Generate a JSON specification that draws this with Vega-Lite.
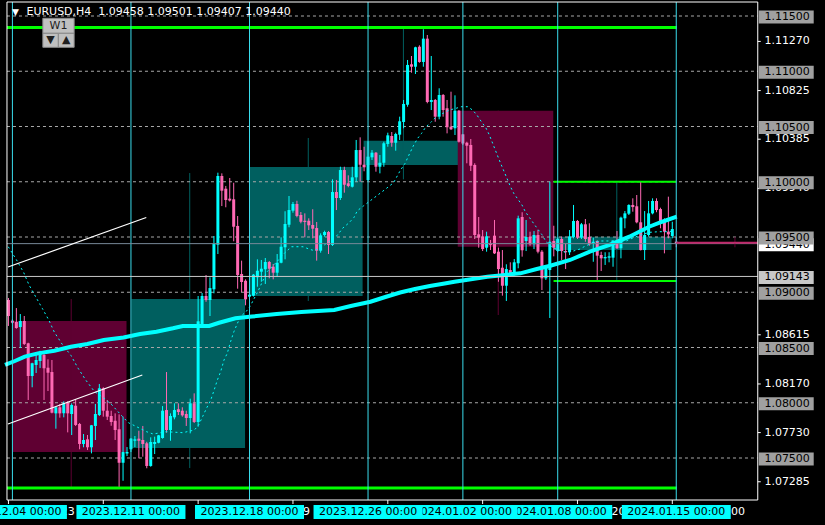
{
"$schema":"https://vega.github.io/schema/vega-lite/v6.json",
"width":825,"height":525,"autosize":{"type":"none"},"padding":0,"background":"#000000",
"config":{"view":{"stroke":null},"text":{"font":"DejaVu Sans","fontSize":11}},
"datasets":{
"candles":[
{"i":1,"o":1.08930,"h":1.08948,"l":1.08695,"c":1.08785,"dir":"down"},
{"i":2,"o":1.08743,"h":1.08758,"l":1.08713,"c":1.08724,"dir":"down"},
{"i":3,"o":1.08731,"h":1.08857,"l":1.08670,"c":1.08676,"dir":"down"},
{"i":4,"o":1.08685,"h":1.08803,"l":1.08495,"c":1.08740,"dir":"up"},
{"i":5,"o":1.08740,"h":1.08785,"l":1.08523,"c":1.08532,"dir":"down"},
{"i":6,"o":1.08538,"h":1.08543,"l":1.08025,"c":1.08242,"dir":"down"},
{"i":7,"o":1.08242,"h":1.08362,"l":1.08140,"c":1.08357,"dir":"up"},
{"i":8,"o":1.08342,"h":1.08459,"l":1.08269,"c":1.08387,"dir":"up"},
{"i":9,"o":1.08378,"h":1.08471,"l":1.08314,"c":1.08462,"dir":"up"},
{"i":10,"o":1.08432,"h":1.08441,"l":1.08025,"c":1.08312,"dir":"down"},
{"i":11,"o":1.08317,"h":1.08393,"l":1.08106,"c":1.08272,"dir":"down"},
{"i":12,"o":1.08278,"h":1.08387,"l":1.07904,"c":1.07910,"dir":"down"},
{"i":13,"o":1.07904,"h":1.07964,"l":1.07765,"c":1.07959,"dir":"up"},
{"i":14,"o":1.07959,"h":1.07989,"l":1.07865,"c":1.07904,"dir":"down"},
{"i":15,"o":1.07904,"h":1.08013,"l":1.07868,"c":1.07995,"dir":"up"},
{"i":16,"o":1.08000,"h":1.08013,"l":1.07732,"c":1.07904,"dir":"down"},
{"i":17,"o":1.07898,"h":1.07995,"l":1.07708,"c":1.07980,"dir":"up"},
{"i":18,"o":1.07973,"h":1.08031,"l":1.07790,"c":1.07799,"dir":"down"},
{"i":19,"o":1.07808,"h":1.07817,"l":1.07579,"c":1.07627,"dir":"down"},
{"i":20,"o":1.07627,"h":1.07717,"l":1.07597,"c":1.07663,"dir":"up"},
{"i":21,"o":1.07669,"h":1.07708,"l":1.07572,"c":1.07597,"dir":"down"},
{"i":22,"o":1.07597,"h":1.07799,"l":1.07542,"c":1.07796,"dir":"up"},
{"i":23,"o":1.07790,"h":1.07989,"l":1.07663,"c":1.07898,"dir":"up"},
{"i":24,"o":1.07889,"h":1.08170,"l":1.07880,"c":1.08131,"dir":"up"},
{"i":25,"o":1.08131,"h":1.08140,"l":1.07874,"c":1.07928,"dir":"down"},
{"i":26,"o":1.07928,"h":1.08025,"l":1.07844,"c":1.07874,"dir":"down"},
{"i":27,"o":1.07880,"h":1.07928,"l":1.07792,"c":1.07826,"dir":"down"},
{"i":28,"o":1.07837,"h":1.07904,"l":1.07663,"c":1.07753,"dir":"down"},
{"i":29,"o":1.07760,"h":1.07895,"l":1.07240,"c":1.07457,"dir":"down"},
{"i":30,"o":1.07457,"h":1.07874,"l":1.07294,"c":1.07554,"dir":"up"},
{"i":31,"o":1.07541,"h":1.07599,"l":1.07518,"c":1.07554,"dir":"up"},
{"i":32,"o":1.07579,"h":1.07681,"l":1.07554,"c":1.07675,"dir":"up"},
{"i":33,"o":1.07656,"h":1.07699,"l":1.07599,"c":1.07669,"dir":"up"},
{"i":34,"o":1.07675,"h":1.07747,"l":1.07497,"c":1.07656,"dir":"down"},
{"i":35,"o":1.07663,"h":1.07790,"l":1.07512,"c":1.07627,"dir":"down"},
{"i":36,"o":1.07633,"h":1.07647,"l":1.07407,"c":1.07428,"dir":"down"},
{"i":37,"o":1.07428,"h":1.07687,"l":1.07421,"c":1.07645,"dir":"up"},
{"i":38,"o":1.07627,"h":1.07693,"l":1.07536,"c":1.07645,"dir":"up"},
{"i":39,"o":1.07638,"h":1.07708,"l":1.07633,"c":1.07705,"dir":"up"},
{"i":40,"o":1.07681,"h":1.07970,"l":1.07675,"c":1.07928,"dir":"up"},
{"i":41,"o":1.07934,"h":1.08278,"l":1.07729,"c":1.07753,"dir":"down"},
{"i":42,"o":1.07753,"h":1.07904,"l":1.07656,"c":1.07880,"dir":"up"},
{"i":43,"o":1.07868,"h":1.07995,"l":1.07850,"c":1.07934,"dir":"up"},
{"i":44,"o":1.07941,"h":1.07995,"l":1.07889,"c":1.07916,"dir":"down"},
{"i":45,"o":1.07928,"h":1.07959,"l":1.07874,"c":1.07886,"dir":"down"},
{"i":46,"o":1.07898,"h":1.07928,"l":1.07790,"c":1.07862,"dir":"down"},
{"i":47,"o":1.07862,"h":1.08037,"l":1.07723,"c":1.07995,"dir":"up"},
{"i":48,"o":1.07995,"h":1.08085,"l":1.07817,"c":1.07826,"dir":"down"},
{"i":49,"o":1.07826,"h":1.08966,"l":1.07783,"c":1.08737,"dir":"up"},
{"i":50,"o":1.08713,"h":1.08993,"l":1.08706,"c":1.08966,"dir":"up"},
{"i":51,"o":1.08966,"h":1.09156,"l":1.08914,"c":1.08930,"dir":"down"},
{"i":52,"o":1.08930,"h":1.09135,"l":1.08785,"c":1.09038,"dir":"up"},
{"i":53,"o":1.09027,"h":1.09509,"l":1.08990,"c":1.09437,"dir":"up"},
{"i":54,"o":1.09430,"h":1.10082,"l":1.09346,"c":1.10052,"dir":"up"},
{"i":55,"o":1.10052,"h":1.10076,"l":1.09780,"c":1.09919,"dir":"down"},
{"i":56,"o":1.09937,"h":1.09962,"l":1.09769,"c":1.09835,"dir":"down"},
{"i":57,"o":1.09847,"h":1.10034,"l":1.09821,"c":1.09830,"dir":"down"},
{"i":58,"o":1.09841,"h":1.09991,"l":1.09461,"c":1.09593,"dir":"down"},
{"i":59,"o":1.09600,"h":1.09690,"l":1.09032,"c":1.09156,"dir":"down"},
{"i":60,"o":1.09165,"h":1.09286,"l":1.09002,"c":1.09093,"dir":"down"},
{"i":61,"o":1.09104,"h":1.09117,"l":1.08882,"c":1.08936,"dir":"down"},
{"i":62,"o":1.08960,"h":1.08993,"l":1.08943,"c":1.08978,"dir":"up"},
{"i":63,"o":1.08969,"h":1.09165,"l":1.08961,"c":1.09159,"dir":"up"},
{"i":64,"o":1.09135,"h":1.09298,"l":1.09050,"c":1.09195,"dir":"up"},
{"i":65,"o":1.09186,"h":1.09292,"l":1.09095,"c":1.09213,"dir":"up"},
{"i":66,"o":1.09208,"h":1.09310,"l":1.09075,"c":1.09274,"dir":"up"},
{"i":67,"o":1.09274,"h":1.09283,"l":1.09126,"c":1.09213,"dir":"down"},
{"i":68,"o":1.09231,"h":1.09256,"l":1.09117,"c":1.09177,"dir":"down"},
{"i":69,"o":1.09177,"h":1.09346,"l":1.09141,"c":1.09267,"dir":"up"},
{"i":70,"o":1.09267,"h":1.09497,"l":1.09262,"c":1.09412,"dir":"up"},
{"i":71,"o":1.09407,"h":1.09733,"l":1.09298,"c":1.09618,"dir":"up"},
{"i":72,"o":1.09611,"h":1.09871,"l":1.09588,"c":1.09744,"dir":"up"},
{"i":73,"o":1.09738,"h":1.09817,"l":1.09720,"c":1.09799,"dir":"up"},
{"i":74,"o":1.09799,"h":1.09828,"l":1.09678,"c":1.09690,"dir":"down"},
{"i":75,"o":1.09699,"h":1.09726,"l":1.09624,"c":1.09638,"dir":"down"},
{"i":76,"o":1.09647,"h":1.09714,"l":1.09497,"c":1.09636,"dir":"down"},
{"i":77,"o":1.09647,"h":1.09669,"l":1.09563,"c":1.09606,"dir":"down"},
{"i":78,"o":1.09609,"h":1.09751,"l":1.09488,"c":1.09575,"dir":"down"},
{"i":79,"o":1.09581,"h":1.09636,"l":1.09286,"c":1.09376,"dir":"down"},
{"i":80,"o":1.09376,"h":1.09533,"l":1.09358,"c":1.09515,"dir":"up"},
{"i":81,"o":1.09518,"h":1.09557,"l":1.09503,"c":1.09545,"dir":"up"},
{"i":82,"o":1.09545,"h":1.09554,"l":1.09346,"c":1.09428,"dir":"down"},
{"i":83,"o":1.09428,"h":1.10022,"l":1.09419,"c":1.09907,"dir":"up"},
{"i":84,"o":1.09907,"h":1.10016,"l":1.09744,"c":1.09853,"dir":"down"},
{"i":85,"o":1.09853,"h":1.10136,"l":1.09835,"c":1.10106,"dir":"up"},
{"i":86,"o":1.10106,"h":1.10136,"l":1.09901,"c":1.09973,"dir":"down"},
{"i":87,"o":1.09986,"h":1.10058,"l":1.09950,"c":1.09962,"dir":"down"},
{"i":88,"o":1.09955,"h":1.10136,"l":1.09948,"c":1.10040,"dir":"up"},
{"i":89,"o":1.10040,"h":1.10378,"l":1.10000,"c":1.10287,"dir":"up"},
{"i":90,"o":1.10287,"h":1.10402,"l":1.10000,"c":1.10154,"dir":"down"},
{"i":91,"o":1.10154,"h":1.10317,"l":1.10095,"c":1.10131,"dir":"down"},
{"i":92,"o":1.10016,"h":1.10366,"l":1.10007,"c":1.10227,"dir":"up"},
{"i":93,"o":1.10221,"h":1.10287,"l":1.10197,"c":1.10263,"dir":"up"},
{"i":94,"o":1.10263,"h":1.10269,"l":1.10091,"c":1.10136,"dir":"down"},
{"i":95,"o":1.10136,"h":1.10242,"l":1.10076,"c":1.10172,"dir":"up"},
{"i":96,"o":1.10172,"h":1.10362,"l":1.10136,"c":1.10348,"dir":"up"},
{"i":97,"o":1.10342,"h":1.10444,"l":1.10317,"c":1.10420,"dir":"up"},
{"i":98,"o":1.10414,"h":1.10450,"l":1.10317,"c":1.10353,"dir":"down"},
{"i":99,"o":1.10353,"h":1.10444,"l":1.10281,"c":1.10432,"dir":"up"},
{"i":100,"o":1.10426,"h":1.10589,"l":1.10378,"c":1.10547,"dir":"up"},
{"i":101,"o":1.10541,"h":1.10740,"l":1.10484,"c":1.10704,"dir":"up"},
{"i":102,"o":1.10697,"h":1.11102,"l":1.10679,"c":1.11057,"dir":"up"},
{"i":103,"o":1.11063,"h":1.11138,"l":1.10987,"c":1.11041,"dir":"down"},
{"i":104,"o":1.11041,"h":1.11222,"l":1.10975,"c":1.11217,"dir":"up"},
{"i":105,"o":1.11222,"h":1.11235,"l":1.11077,"c":1.11084,"dir":"down"},
{"i":106,"o":1.11084,"h":1.11380,"l":1.11041,"c":1.11295,"dir":"up"},
{"i":107,"o":1.11295,"h":1.11328,"l":1.10710,"c":1.10722,"dir":"down"},
{"i":108,"o":1.10722,"h":1.11138,"l":1.10649,"c":1.10740,"dir":"up"},
{"i":109,"o":1.10740,"h":1.10749,"l":1.10543,"c":1.10589,"dir":"down"},
{"i":110,"o":1.10589,"h":1.10846,"l":1.10565,"c":1.10785,"dir":"up"},
{"i":111,"o":1.10785,"h":1.10794,"l":1.10589,"c":1.10649,"dir":"down"},
{"i":112,"o":1.10665,"h":1.10740,"l":1.10438,"c":1.10493,"dir":"down"},
{"i":113,"o":1.10498,"h":1.10815,"l":1.10468,"c":1.10475,"dir":"down"},
{"i":114,"o":1.10484,"h":1.10782,"l":1.10423,"c":1.10643,"dir":"up"},
{"i":115,"o":1.10643,"h":1.10649,"l":1.10355,"c":1.10362,"dir":"down"},
{"i":116,"o":1.10429,"h":1.10432,"l":1.10333,"c":1.10346,"dir":"down"},
{"i":117,"o":1.10353,"h":1.10362,"l":1.10167,"c":1.10326,"dir":"down"},
{"i":118,"o":1.10333,"h":1.10387,"l":1.10097,"c":1.10145,"dir":"down"},
{"i":119,"o":1.10152,"h":1.10167,"l":1.09482,"c":1.09518,"dir":"down"},
{"i":120,"o":1.09524,"h":1.09681,"l":1.09403,"c":1.09494,"dir":"down"},
{"i":121,"o":1.09503,"h":1.09563,"l":1.09373,"c":1.09391,"dir":"down"},
{"i":122,"o":1.09403,"h":1.09548,"l":1.09367,"c":1.09506,"dir":"up"},
{"i":123,"o":1.09441,"h":1.09473,"l":1.09382,"c":1.09429,"dir":"down"},
{"i":124,"o":1.09512,"h":1.09654,"l":1.09346,"c":1.09352,"dir":"down"},
{"i":125,"o":1.09367,"h":1.09403,"l":1.09095,"c":1.09210,"dir":"down"},
{"i":126,"o":1.09222,"h":1.09382,"l":1.08969,"c":1.09059,"dir":"down"},
{"i":127,"o":1.09059,"h":1.09253,"l":1.08921,"c":1.09210,"dir":"up"},
{"i":128,"o":1.09201,"h":1.09271,"l":1.09141,"c":1.09156,"dir":"down"},
{"i":129,"o":1.09171,"h":1.09301,"l":1.09152,"c":1.09271,"dir":"up"},
{"i":130,"o":1.09262,"h":1.09693,"l":1.09217,"c":1.09669,"dir":"up"},
{"i":131,"o":1.09681,"h":1.09724,"l":1.09322,"c":1.09380,"dir":"down"},
{"i":132,"o":1.09464,"h":1.09654,"l":1.09373,"c":1.09500,"dir":"up"},
{"i":133,"o":1.09500,"h":1.09548,"l":1.09421,"c":1.09434,"dir":"down"},
{"i":134,"o":1.09434,"h":1.09554,"l":1.09391,"c":1.09518,"dir":"up"},
{"i":135,"o":1.09518,"h":1.09563,"l":1.09352,"c":1.09367,"dir":"down"},
{"i":136,"o":1.09367,"h":1.09382,"l":1.09020,"c":1.09126,"dir":"down"},
{"i":137,"o":1.09126,"h":1.09246,"l":1.09111,"c":1.09231,"dir":"up"},
{"i":138,"o":1.09201,"h":1.10001,"l":1.08767,"c":1.09457,"dir":"up"},
{"i":139,"o":1.09464,"h":1.09602,"l":1.09325,"c":1.09403,"dir":"down"},
{"i":140,"o":1.09373,"h":1.09491,"l":1.09364,"c":1.09482,"dir":"up"},
{"i":141,"o":1.09482,"h":1.09503,"l":1.09292,"c":1.09373,"dir":"down"},
{"i":142,"o":1.09373,"h":1.09443,"l":1.09210,"c":1.09362,"dir":"down"},
{"i":143,"o":1.09362,"h":1.09563,"l":1.09337,"c":1.09506,"dir":"up"},
{"i":144,"o":1.09500,"h":1.09790,"l":1.09488,"c":1.09645,"dir":"up"},
{"i":145,"o":1.09645,"h":1.09654,"l":1.09482,"c":1.09494,"dir":"down"},
{"i":146,"o":1.09494,"h":1.09627,"l":1.09482,"c":1.09615,"dir":"up"},
{"i":147,"o":1.09615,"h":1.09663,"l":1.09457,"c":1.09482,"dir":"down"},
{"i":148,"o":1.09500,"h":1.09624,"l":1.09421,"c":1.09434,"dir":"down"},
{"i":149,"o":1.09446,"h":1.09494,"l":1.09276,"c":1.09457,"dir":"up"},
{"i":150,"o":1.09464,"h":1.09470,"l":1.09111,"c":1.09331,"dir":"down"},
{"i":151,"o":1.09337,"h":1.09367,"l":1.09192,"c":1.09307,"dir":"down"},
{"i":152,"o":1.09307,"h":1.09362,"l":1.09247,"c":1.09319,"dir":"up"},
{"i":153,"o":1.09313,"h":1.09362,"l":1.09271,"c":1.09325,"dir":"up"},
{"i":154,"o":1.09313,"h":1.09473,"l":1.09231,"c":1.09464,"dir":"up"},
{"i":155,"o":1.09464,"h":1.09554,"l":1.09391,"c":1.09398,"dir":"down"},
{"i":156,"o":1.09398,"h":1.09684,"l":1.09307,"c":1.09675,"dir":"up"},
{"i":157,"o":1.09669,"h":1.09735,"l":1.09579,"c":1.09714,"dir":"up"},
{"i":158,"o":1.09711,"h":1.09796,"l":1.09699,"c":1.09790,"dir":"up"},
{"i":159,"o":1.09790,"h":1.09850,"l":1.09729,"c":1.09771,"dir":"down"},
{"i":160,"o":1.09778,"h":1.09880,"l":1.09624,"c":1.09633,"dir":"down"},
{"i":161,"o":1.09633,"h":1.09995,"l":1.09378,"c":1.09382,"dir":"down"},
{"i":162,"o":1.09382,"h":1.09735,"l":1.09292,"c":1.09518,"dir":"up"},
{"i":163,"o":1.09518,"h":1.09826,"l":1.09503,"c":1.09714,"dir":"up"},
{"i":164,"o":1.09714,"h":1.09850,"l":1.09705,"c":1.09826,"dir":"up"},
{"i":165,"o":1.09826,"h":1.09850,"l":1.09724,"c":1.09744,"dir":"down"},
{"i":166,"o":1.09753,"h":1.09765,"l":1.09579,"c":1.09638,"dir":"down"},
{"i":167,"o":1.09638,"h":1.09669,"l":1.09352,"c":1.09548,"dir":"down"},
{"i":168,"o":1.09548,"h":1.09865,"l":1.09488,"c":1.09524,"dir":"down"},
{"i":169,"o":1.09509,"h":1.09638,"l":1.09488,"c":1.09572,"dir":"up"},
{"i":170,"o":1.09458,"h":1.09501,"l":1.09407,"c":1.09440,"dir":"down"}
],
"w1":[
{"a":2.125,"b":30.875,"w":16.875,"o":1.08740,"c":1.07554,"h":1.08939,"l":1.07237,"dir":"wdown"},
{"a":32.125,"b":60.875,"w":46.875,"o":1.07590,"c":1.08939,"h":1.10079,"l":1.07409,"dir":"wup"},
{"a":61.875,"b":90.625,"w":76.875,"o":1.08966,"c":1.10133,"h":1.10396,"l":1.08921,"dir":"wup"},
{"a":90.875,"b":114.875,"w":100.95,"o":1.10152,"c":1.10371,"h":1.11389,"l":1.10022,"dir":"wup"},
{"a":114.7,"b":138.875,"w":124.95,"o":1.10643,"c":1.09412,"h":1.10643,"l":1.08794,"dir":"wdown"},
{"a":138.95,"b":168.8,"w":154.95,"o":1.09382,"c":1.09503,"h":1.09998,"l":1.09111,"dir":"wup"}
],
"w1now":[{"a":170,"b":190.625,"w":184.85,"o":1.09458,"c":1.09440,"h":1.09501,"l":1.09407}],
"maSlow":[
{"i":0.125,"p":1.08342},{"i":2.625,"p":1.08378},{"i":5.125,"p":1.08417},{"i":8.45,"p":1.08447},{"i":12.625,"p":1.08471},{"i":16.8,"p":1.08507},{"i":20.95,"p":1.08532},{"i":25.125,"p":1.08568},{"i":30.125,"p":1.08590},{"i":34.3,"p":1.08622},{"i":38.45,"p":1.08643},{"i":42.625,"p":1.08674},{"i":45.125,"p":1.08695},{"i":51.8,"p":1.08695},{"i":54.3,"p":1.08724},{"i":58.45,"p":1.08764},{"i":62.625,"p":1.08780},{"i":68.875,"p":1.08803},{"i":75.125,"p":1.08821},{"i":83.45,"p":1.08839},{"i":87.625,"p":1.08876},{"i":92.625,"p":1.08914},{"i":96.375,"p":1.08957},{"i":100.125,"p":1.08998},{"i":103.875,"p":1.09029},{"i":107.625,"p":1.09057},{"i":111.375,"p":1.09079},{"i":113.875,"p":1.09095},{"i":122.2,"p":1.09141},{"i":130.55,"p":1.09171},{"i":134.7,"p":1.09210},{"i":138.125,"p":1.09240},{"i":143.125,"p":1.09292},{"i":148.125,"p":1.09367},{"i":153.125,"p":1.09428},{"i":158.125,"p":1.09503},{"i":163.125,"p":1.09593},{"i":166.45,"p":1.09638},{"i":170.125,"p":1.09684}
],
"maFast":[
{"i":0.95,"p":1.09412},{"i":3.05,"p":1.09292},{"i":4.875,"p":1.09177},{"i":6.2,"p":1.09066},{"i":7.875,"p":1.08960},{"i":9.55,"p":1.08855},{"i":11.2,"p":1.08749},{"i":12.625,"p":1.08638},{"i":14.55,"p":1.08532},{"i":16.8,"p":1.08429},{"i":18.625,"p":1.08312},{"i":20.55,"p":1.08206},{"i":22.8,"p":1.08100},{"i":24.7,"p":1.08055},{"i":27.2,"p":1.07980},{"i":29.875,"p":1.07874},{"i":31.375,"p":1.07819},{"i":33.05,"p":1.07790},{"i":35.95,"p":1.07738},{"i":37.625,"p":1.07717},{"i":40.95,"p":1.07738},{"i":45.125,"p":1.07729},{"i":48.05,"p":1.07753},{"i":49.125,"p":1.07799},{"i":50.125,"p":1.07874},{"i":51.125,"p":1.07950},{"i":52.2,"p":1.08025},{"i":53.05,"p":1.08115},{"i":53.875,"p":1.08206},{"i":54.7,"p":1.08281},{"i":55.55,"p":1.08387},{"i":56.375,"p":1.08447},{"i":57.2,"p":1.08552},{"i":58.05,"p":1.08643},{"i":58.875,"p":1.08713},{"i":59.7,"p":1.08779},{"i":61.125,"p":1.08824},{"i":62.2,"p":1.08876},{"i":64.3,"p":1.09020},{"i":66.375,"p":1.09183},{"i":68.875,"p":1.09274},{"i":70.95,"p":1.09358},{"i":72.625,"p":1.09412},{"i":75.55,"p":1.09412},{"i":77.2,"p":1.09389},{"i":78.45,"p":1.09376},{"i":80.95,"p":1.09428},{"i":82.625,"p":1.09473},{"i":84.3,"p":1.09518},{"i":85.55,"p":1.09579},{"i":87.2,"p":1.09629},{"i":88.45,"p":1.09678},{"i":89.3,"p":1.09738},{"i":90.8,"p":1.09780},{"i":96.375,"p":1.09932},{"i":98.45,"p":1.09991},{"i":100.125,"p":1.10100},{"i":101.375,"p":1.10167},{"i":102.625,"p":1.10263},{"i":103.45,"p":1.10324},{"i":104.55,"p":1.10393},{"i":105.55,"p":1.10438},{"i":106.55,"p":1.10493},{"i":108.05,"p":1.10543},{"i":109.3,"p":1.10589},{"i":110.95,"p":1.10619},{"i":112.625,"p":1.10649},{"i":114.3,"p":1.10665},{"i":115.55,"p":1.10679},{"i":117.2,"p":1.10679},{"i":118.45,"p":1.10649},{"i":119.55,"p":1.10604},{"i":120.55,"p":1.10550},{"i":121.8,"p":1.10489},{"i":122.625,"p":1.10429},{"i":123.7,"p":1.10333},{"i":124.7,"p":1.10242},{"i":125.55,"p":1.10167},{"i":126.8,"p":1.10061},{"i":128.05,"p":1.09955},{"i":128.875,"p":1.09895},{"i":129.875,"p":1.09844},{"i":130.95,"p":1.09790},{"i":131.8,"p":1.09729},{"i":132.875,"p":1.09675},{"i":133.875,"p":1.09624},{"i":135.125,"p":1.09563},{"i":135.95,"p":1.09524},{"i":137.05,"p":1.09457},{"i":138.875,"p":1.09400},{"i":141.875,"p":1.09362},{"i":143.95,"p":1.09373},{"i":145.625,"p":1.09391},{"i":146.875,"p":1.09416},{"i":148.95,"p":1.09449},{"i":150.625,"p":1.09464},{"i":153.875,"p":1.09464},{"i":157.3,"p":1.09464},{"i":159.8,"p":1.09503},{"i":163.125,"p":1.09542},{"i":165.625,"p":1.09548},{"i":167.7,"p":1.09548},{"i":169.375,"p":1.09554}
],
"trend":[{"id":"u","i":0.875,"p":1.09228},{"id":"u","i":35.875,"p":1.09676},{"id":"l","i":0.875,"p":1.07808},{"id":"l","i":34.875,"p":1.08251}],
"levels":[{"p":1.115,"t":"1.11500"},{"p":1.11,"t":"1.11000"},{"p":1.105,"t":"1.10500"},{"p":1.1,"t":"1.10000"},{"p":1.095,"t":"1.09500"},{"p":1.09,"t":"1.09000"},{"p":1.085,"t":"1.08500"},{"p":1.08,"t":"1.08000"},{"p":1.075,"t":"1.07500"}],
"scale":[{"p":1.1127,"t":"1.11270"},{"p":1.10825,"t":"1.10825"},{"p":1.10385,"t":"1.10385"},{"p":1.0994,"t":"1.09940"},{"p":1.08615,"t":"1.08615"},{"p":1.0817,"t":"1.08170"},{"p":1.0773,"t":"1.07730"},{"p":1.07285,"t":"1.07285"}],
"greenLong":[{"a":0.625,"b":170.125,"p":1.11396},{"a":0.625,"b":170.125,"p":1.07228}],
"greenShort":[{"a":138.95,"b":170.0,"p":1.10000},{"a":138.95,"b":170.0,"p":1.09102}],
"vlines":[{"i":2},{"i":32},{"i":62},{"i":92},{"i":116},{"i":140},{"i":170}],
"dates":[{"i":2,"t":"2023.12.04 00:00"},{"i":32,"t":"2023.12.11 00:00"},{"i":62,"t":"2023.12.18 00:00"},{"i":92,"t":"2023.12.26 00:00"},{"i":116,"t":"2024.01.02 00:00"},{"i":140,"t":"2024.01.08 00:00"},{"i":170,"t":"2024.01.15 00:00"}],
"times":[{"i":1,"t":"1 Dec 2023"},{"i":25,"t":"7 Dec 20:00"},{"i":49,"t":"13 Dec 20:00"},{"i":73,"t":"19 Dec 20:00"},{"i":97,"t":"26 Dec 20:00"},{"i":121,"t":"2 Jan 20:00"},{"i":145,"t":"8 Jan 20:00"},{"i":169,"t":"12 Jan 20:00"}]
},
"layer":[
{"data":{"name":"w1"},"mark":{"type":"rect"},
 "encoding":{"x":{"field":"a","type":"quantitative","scale":{"domain":[0.125,206.375],"nice":false,"zero":false},"axis":null},"x2":{"field":"b"},
 "y":{"field":"o","type":"quantitative","scale":{"domain":[1.0689367,1.116448],"nice":false,"zero":false},"axis":null},"y2":{"field":"c"},
 "color":{"field":"dir","type":"nominal","scale":{"domain":["up","down","wup","wdown"],"range":["#00FFFF","#FF69B4","#005F5F","#5F0032"]},"legend":null}}},
{"data":{"name":"w1"},"mark":{"type":"rule","strokeWidth":1},
 "encoding":{"x":{"field":"w","type":"quantitative","scale":{"domain":[0.125,206.375],"nice":false,"zero":false},"axis":null},
 "y":{"field":"h","type":"quantitative","scale":{"domain":[1.0689367,1.116448],"nice":false,"zero":false},"axis":null},"y2":{"field":"l"},
 "color":{"field":"dir","type":"nominal","scale":{"domain":["up","down","wup","wdown"],"range":["#00FFFF","#FF69B4","#005F5F","#5F0032"]},"legend":null}}},
{"data":{"name":"levels"},"mark":{"type":"rule","color":"#A8A8A8","strokeWidth":1,"strokeDash":[3,3]},
 "encoding":{"x":{"datum":0.625,"type":"quantitative","scale":{"domain":[0.125,206.375],"nice":false,"zero":false},"axis":null},"x2":{"datum":190.625},
 "y":{"field":"p","type":"quantitative","scale":{"domain":[1.0689367,1.116448],"nice":false,"zero":false},"axis":null}}},
{"data":{"name":"greenLong"},"mark":{"type":"rule","color":"#00FF00","strokeWidth":3},
 "encoding":{"x":{"field":"a","type":"quantitative","scale":{"domain":[0.125,206.375],"nice":false,"zero":false},"axis":null},"x2":{"field":"b"},
 "y":{"field":"p","type":"quantitative","scale":{"domain":[1.0689367,1.116448],"nice":false,"zero":false},"axis":null}}},
{"data":{"name":"greenShort"},"mark":{"type":"rule","color":"#00FF00","strokeWidth":2},
 "encoding":{"x":{"field":"a","type":"quantitative","scale":{"domain":[0.125,206.375],"nice":false,"zero":false},"axis":null},"x2":{"field":"b"},
 "y":{"field":"p","type":"quantitative","scale":{"domain":[1.0689367,1.116448],"nice":false,"zero":false},"axis":null}}},
{"data":{"name":"candles"},"mark":{"type":"rule","strokeWidth":1},
 "encoding":{"x":{"field":"i","type":"quantitative","scale":{"domain":[0.125,206.375],"nice":false,"zero":false},"axis":null},
 "y":{"field":"l","type":"quantitative","scale":{"domain":[1.0689367,1.116448],"nice":false,"zero":false},"axis":null},"y2":{"field":"h"},
 "color":{"field":"dir","type":"nominal","scale":{"domain":["up","down","wup","wdown"],"range":["#00FFFF","#FF69B4","#005F5F","#5F0032"]},"legend":null}}},
{"data":{"name":"candles"},"mark":{"type":"bar","size":3,"opacity":1},
 "encoding":{"x":{"field":"i","type":"quantitative","scale":{"domain":[0.125,206.375],"nice":false,"zero":false},"axis":null},
 "y":{"field":"o","type":"quantitative","scale":{"domain":[1.0689367,1.116448],"nice":false,"zero":false},"axis":null},"y2":{"field":"c"},
 "color":{"field":"dir","type":"nominal","scale":{"domain":["up","down","wup","wdown"],"range":["#00FFFF","#FF69B4","#005F5F","#5F0032"]},"legend":null}}},
{"data":{"name":"maFast"},"mark":{"type":"line","color":"#00FFFF","strokeWidth":1,"strokeDash":[2,3]},
 "encoding":{"x":{"field":"i","type":"quantitative","scale":{"domain":[0.125,206.375],"nice":false,"zero":false},"axis":null},
 "y":{"field":"p","type":"quantitative","scale":{"domain":[1.0689367,1.116448],"nice":false,"zero":false},"axis":null}}},
{"data":{"name":"maSlow"},"mark":{"type":"line","color":"#00FFFF","strokeWidth":4},
 "encoding":{"x":{"field":"i","type":"quantitative","scale":{"domain":[0.125,206.375],"nice":false,"zero":false},"axis":null},
 "y":{"field":"p","type":"quantitative","scale":{"domain":[1.0689367,1.116448],"nice":false,"zero":false},"axis":null}}},
{"data":{"name":"vlines"},"mark":{"type":"rule","color":"#3ADCEC","strokeWidth":1},
 "encoding":{"x":{"field":"i","type":"quantitative","scale":{"domain":[0.125,206.375],"nice":false,"zero":false},"axis":null},
 "y":{"datum":1.116267,"type":"quantitative","scale":{"domain":[1.0689367,1.116448],"nice":false,"zero":false},"axis":null},"y2":{"datum":1.071198}}},
{"data":{"values":[{"p":1.09143}]},"mark":{"type":"rule","color":"#C8C8C8","strokeWidth":1},
 "encoding":{"x":{"datum":0.625,"type":"quantitative","scale":{"domain":[0.125,206.375],"nice":false,"zero":false},"axis":null},"x2":{"datum":190.625},
 "y":{"field":"p","type":"quantitative","scale":{"domain":[1.0689367,1.116448],"nice":false,"zero":false},"axis":null}}},
{"data":{"values":[{"p":1.0944}]},"mark":{"type":"rule","color":"#778899","strokeWidth":1},
 "encoding":{"x":{"datum":0.625,"type":"quantitative","scale":{"domain":[0.125,206.375],"nice":false,"zero":false},"axis":null},"x2":{"datum":190.625},
 "y":{"field":"p","type":"quantitative","scale":{"domain":[1.0689367,1.116448],"nice":false,"zero":false},"axis":null}}},
{"data":{"name":"w1now"},"mark":{"type":"rule","color":"#5F0032","strokeWidth":1},
 "encoding":{"x":{"field":"w","type":"quantitative","scale":{"domain":[0.125,206.375],"nice":false,"zero":false},"axis":null},
 "y":{"field":"h","type":"quantitative","scale":{"domain":[1.0689367,1.116448],"nice":false,"zero":false},"axis":null},"y2":{"field":"l"}}},
{"data":{"name":"w1now"},"mark":{"type":"rect","color":"#C0286A"},
 "encoding":{"x":{"field":"a","type":"quantitative","scale":{"domain":[0.125,206.375],"nice":false,"zero":false},"axis":null},"x2":{"field":"b"},
 "y":{"field":"o","type":"quantitative","scale":{"domain":[1.0689367,1.116448],"nice":false,"zero":false},"axis":null},"y2":{"field":"c"}}},
{"data":{"name":"trend"},"mark":{"type":"line","color":"#FFFFFF","strokeWidth":1.2},
 "encoding":{"x":{"field":"i","type":"quantitative","scale":{"domain":[0.125,206.375],"nice":false,"zero":false},"axis":null},
 "y":{"field":"p","type":"quantitative","scale":{"domain":[1.0689367,1.116448],"nice":false,"zero":false},"axis":null},"detail":{"field":"id"}}},
{"data":{"values":[{"p":1.116267},{"p":1.071198}]},"mark":{"type":"rule","color":"#FFFFFF","strokeWidth":1},
 "encoding":{"x":{"datum":0.625,"type":"quantitative","scale":{"domain":[0.125,206.375],"nice":false,"zero":false},"axis":null},"x2":{"datum":190.625},
 "y":{"field":"p","type":"quantitative","scale":{"domain":[1.0689367,1.116448],"nice":false,"zero":false},"axis":null}}},
{"data":{"values":[{"i":0.625},{"i":190.625}]},"mark":{"type":"rule","color":"#FFFFFF","strokeWidth":1},
 "encoding":{"x":{"field":"i","type":"quantitative","scale":{"domain":[0.125,206.375],"nice":false,"zero":false},"axis":null},
 "y":{"datum":1.116267,"type":"quantitative","scale":{"domain":[1.0689367,1.116448],"nice":false,"zero":false},"axis":null},"y2":{"datum":1.071198}}},
{"data":{"name":"times"},"mark":{"type":"rule","color":"#FFFFFF","strokeWidth":1},
 "encoding":{"x":{"field":"i","type":"quantitative","scale":{"domain":[0.125,206.375],"nice":false,"zero":false},"axis":null},
 "y":{"datum":1.071198,"type":"quantitative","scale":{"domain":[1.0689367,1.116448],"nice":false,"zero":false},"axis":null},"y2":{"datum":1.070836}}},
{"data":{"name":"times"},"mark":{"type":"text","color":"#FFFFFF","align":"left","baseline":"middle","dx":3},
 "encoding":{"x":{"field":"i","type":"quantitative","scale":{"domain":[0.125,206.375],"nice":false,"zero":false},"axis":null},
 "y":{"datum":1.070112,"type":"quantitative","scale":{"domain":[1.0689367,1.116448],"nice":false,"zero":false},"axis":null},"text":{"field":"t"}}},
{"data":{"name":"scale"},"mark":{"type":"rule","color":"#FFFFFF","strokeWidth":1},
 "encoding":{"x":{"datum":190.625,"type":"quantitative","scale":{"domain":[0.125,206.375],"nice":false,"zero":false},"axis":null},"x2":{"datum":191.375},
 "y":{"field":"p","type":"quantitative","scale":{"domain":[1.0689367,1.116448],"nice":false,"zero":false},"axis":null}}},
{"data":{"name":"scale"},"mark":{"type":"text","color":"#FFFFFF","align":"left","baseline":"middle"},
 "encoding":{"x":{"datum":192.3,"type":"quantitative","scale":{"domain":[0.125,206.375],"nice":false,"zero":false},"axis":null},
 "y":{"field":"p","type":"quantitative","scale":{"domain":[1.0689367,1.116448],"nice":false,"zero":false},"axis":null},"text":{"field":"t"}}},
{"data":{"values":[{"p":1.0944,"t":"1.09440"}]},"mark":{"type":"tick","orient":"horizontal","size":55,"thickness":13,"color":"#FFFFFF","opacity":1,"yOffset":1},
 "encoding":{"x":{"datum":197.825,"type":"quantitative","scale":{"domain":[0.125,206.375],"nice":false,"zero":false},"axis":null},
 "y":{"field":"p","type":"quantitative","scale":{"domain":[1.0689367,1.116448],"nice":false,"zero":false},"axis":null}}},
{"data":{"values":[{"p":1.0944,"t":"1.09440"}]},"mark":{"type":"text","color":"#000000","align":"left","baseline":"middle","dy":1},
 "encoding":{"x":{"datum":192.3,"type":"quantitative","scale":{"domain":[0.125,206.375],"nice":false,"zero":false},"axis":null},
 "y":{"field":"p","type":"quantitative","scale":{"domain":[1.0689367,1.116448],"nice":false,"zero":false},"axis":null},"text":{"field":"t"}}},
{"data":{"values":[{"p":1.09143,"t":"1.09143"}]},"mark":{"type":"tick","orient":"horizontal","size":55,"thickness":13,"color":"#C8C8C8","opacity":1,"yOffset":1},
 "encoding":{"x":{"datum":197.825,"type":"quantitative","scale":{"domain":[0.125,206.375],"nice":false,"zero":false},"axis":null},
 "y":{"field":"p","type":"quantitative","scale":{"domain":[1.0689367,1.116448],"nice":false,"zero":false},"axis":null}}},
{"data":{"values":[{"p":1.09143,"t":"1.09143"}]},"mark":{"type":"text","color":"#000000","align":"left","baseline":"middle","dy":1},
 "encoding":{"x":{"datum":192.3,"type":"quantitative","scale":{"domain":[0.125,206.375],"nice":false,"zero":false},"axis":null},
 "y":{"field":"p","type":"quantitative","scale":{"domain":[1.0689367,1.116448],"nice":false,"zero":false},"axis":null},"text":{"field":"t"}}},
{"data":{"name":"levels"},"mark":{"type":"tick","orient":"horizontal","size":55,"thickness":13,"color":"#A0A0A0","opacity":1,"yOffset":1},
 "encoding":{"x":{"datum":197.825,"type":"quantitative","scale":{"domain":[0.125,206.375],"nice":false,"zero":false},"axis":null},
 "y":{"field":"p","type":"quantitative","scale":{"domain":[1.0689367,1.116448],"nice":false,"zero":false},"axis":null}}},
{"data":{"name":"levels"},"mark":{"type":"text","color":"#000000","align":"left","baseline":"middle","dy":1},
 "encoding":{"x":{"datum":192.3,"type":"quantitative","scale":{"domain":[0.125,206.375],"nice":false,"zero":false},"axis":null},
 "y":{"field":"p","type":"quantitative","scale":{"domain":[1.0689367,1.116448],"nice":false,"zero":false},"axis":null},"text":{"field":"t"}}},
{"data":{"name":"dates"},"transform":[{"filter":{"field":"i","oneOf":[140,170]}}],"mark":{"type":"tick","orient":"horizontal","size":109,"thickness":14,"color":"#00FFFF","opacity":1},
 "encoding":{"x":{"field":"i","type":"quantitative","scale":{"domain":[0.125,206.375],"nice":false,"zero":false},"axis":null},
 "y":{"datum":1.070112,"type":"quantitative","scale":{"domain":[1.0689367,1.116448],"nice":false,"zero":false},"axis":null}}},
{"data":{"name":"dates"},"transform":[{"filter":{"field":"i","oneOf":[140,170]}}],"mark":{"type":"text","color":"#000000","align":"center","baseline":"middle"},
 "encoding":{"x":{"field":"i","type":"quantitative","scale":{"domain":[0.125,206.375],"nice":false,"zero":false},"axis":null},
 "y":{"datum":1.070112,"type":"quantitative","scale":{"domain":[1.0689367,1.116448],"nice":false,"zero":false},"axis":null},"text":{"field":"t"}}},
{"data":{"name":"dates"},"transform":[{"filter":{"field":"i","oneOf":[2,62,116]}}],"mark":{"type":"tick","orient":"horizontal","size":109,"thickness":14,"color":"#00FFFF","opacity":1},
 "encoding":{"x":{"field":"i","type":"quantitative","scale":{"domain":[0.125,206.375],"nice":false,"zero":false},"axis":null},
 "y":{"datum":1.070112,"type":"quantitative","scale":{"domain":[1.0689367,1.116448],"nice":false,"zero":false},"axis":null}}},
{"data":{"name":"dates"},"transform":[{"filter":{"field":"i","oneOf":[2,62,116]}}],"mark":{"type":"text","color":"#000000","align":"center","baseline":"middle"},
 "encoding":{"x":{"field":"i","type":"quantitative","scale":{"domain":[0.125,206.375],"nice":false,"zero":false},"axis":null},
 "y":{"datum":1.070112,"type":"quantitative","scale":{"domain":[1.0689367,1.116448],"nice":false,"zero":false},"axis":null},"text":{"field":"t"}}},
{"data":{"name":"dates"},"transform":[{"filter":{"field":"i","oneOf":[32,92]}}],"mark":{"type":"tick","orient":"horizontal","size":109,"thickness":14,"color":"#00FFFF","opacity":1},
 "encoding":{"x":{"field":"i","type":"quantitative","scale":{"domain":[0.125,206.375],"nice":false,"zero":false},"axis":null},
 "y":{"datum":1.070112,"type":"quantitative","scale":{"domain":[1.0689367,1.116448],"nice":false,"zero":false},"axis":null}}},
{"data":{"name":"dates"},"transform":[{"filter":{"field":"i","oneOf":[32,92]}}],"mark":{"type":"text","color":"#000000","align":"center","baseline":"middle"},
 "encoding":{"x":{"field":"i","type":"quantitative","scale":{"domain":[0.125,206.375],"nice":false,"zero":false},"axis":null},
 "y":{"datum":1.070112,"type":"quantitative","scale":{"domain":[1.0689367,1.116448],"nice":false,"zero":false},"axis":null},"text":{"field":"t"}}},
{"data":{"values":[{"t":"▼"}]},"mark":{"type":"text","color":"#FFFFFF","align":"center","baseline":"middle","fontSize":9},
 "encoding":{"x":{"datum":2.75,"type":"quantitative","scale":{"domain":[0.125,206.375],"nice":false,"zero":false},"axis":null},
 "y":{"datum":1.115317,"type":"quantitative","scale":{"domain":[1.0689367,1.116448],"nice":false,"zero":false},"axis":null},"text":{"field":"t"}}},
{"data":{"values":[{"t":"EURUSD,H4\u00a0 1.09458 1.09501 1.09407 1.09440"}]},"mark":{"type":"text","color":"#FFFFFF","align":"left","baseline":"middle"},
 "encoding":{"x":{"datum":5.55,"type":"quantitative","scale":{"domain":[0.125,206.375],"nice":false,"zero":false},"axis":null},
 "y":{"datum":1.115317,"type":"quantitative","scale":{"domain":[1.0689367,1.116448],"nice":false,"zero":false},"axis":null},"text":{"field":"t"}}},
{"data":{"values":[{"a":9.7,"b":17.625,"t":1.114792,"u":1.113434},{"a":9.7,"b":13.625,"t":1.113434,"u":1.112167},{"a":13.625,"b":17.625,"t":1.113434,"u":1.112167}]},
 "mark":{"type":"rect","fill":"#C0C0C0","stroke":"#8A8A8A","strokeWidth":1},
 "encoding":{"x":{"field":"a","type":"quantitative","scale":{"domain":[0.125,206.375],"nice":false,"zero":false},"axis":null},"x2":{"field":"b"},
 "y":{"field":"t","type":"quantitative","scale":{"domain":[1.0689367,1.116448],"nice":false,"zero":false},"axis":null},"y2":{"field":"u"}}},
{"data":{"values":[{"x":13.66,"y":1.114113,"t":"W1"},{"x":11.66,"y":1.11283,"t":"▼"},{"x":15.625,"y":1.11283,"t":"▲"}]},
 "mark":{"type":"text","color":"#202020","align":"center","baseline":"middle","fontSize":11},
 "encoding":{"x":{"field":"x","type":"quantitative","scale":{"domain":[0.125,206.375],"nice":false,"zero":false},"axis":null},
 "y":{"field":"y","type":"quantitative","scale":{"domain":[1.0689367,1.116448],"nice":false,"zero":false},"axis":null},"text":{"field":"t"}}}
]
}
